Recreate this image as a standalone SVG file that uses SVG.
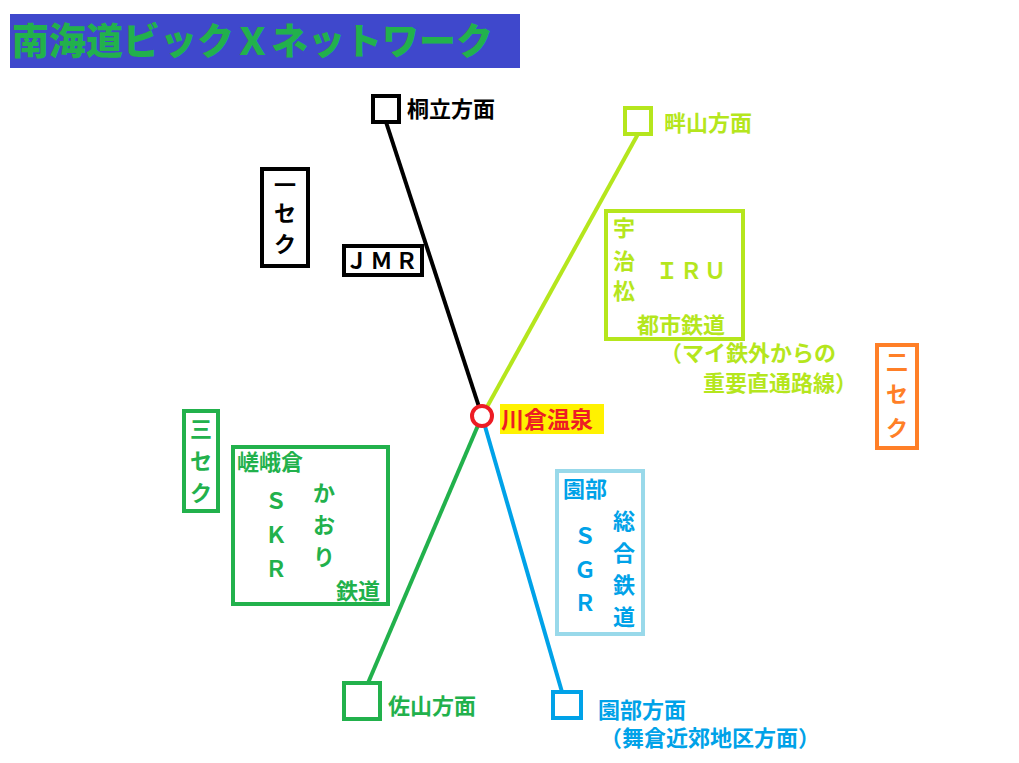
<svg xmlns="http://www.w3.org/2000/svg" width="1019" height="763" viewBox="0 0 1019 763">
<style>
text{font-family:"Noto Sans CJK JP","Noto Sans",sans-serif;font-weight:bold;font-size:22px}
.bk{fill:#000}.yg{fill:#b5e61d}.gr{fill:#22b14c}.bl{fill:#00a2e8}.or{fill:#ff7f27}
.box{fill:none;stroke-width:4}
</style>
<rect width="1019" height="763" fill="#fff"/>
<g id="title"><rect x="10" y="14" width="510" height="54" fill="#3f48cc"/>
<text x="12" y="55" class="gr" style="font-size:37px;font-weight:900">南海道ビックＸネットワーク</text></g>
<g id="connectors" stroke-width="4" fill="none">
<line x1="386" y1="122" x2="482" y2="416" stroke="#000"/>
<line x1="638" y1="134" x2="482" y2="416" stroke="#b5e61d"/>
<line x1="482" y1="416" x2="368" y2="683" stroke="#22b14c"/>
<line x1="482" y1="416" x2="562" y2="692" stroke="#00a2e8"/>
</g>
<g id="kawakura"><circle cx="482" cy="416" r="10" fill="#fff" stroke="#ed1c24" stroke-width="4"/>
<rect x="500" y="404" width="104" height="30" fill="#fff200"/>
<text x="501" y="428" fill="#ed1c24" style="font-size:23px">川倉温泉</text></g>
<g id="kiritate"><rect x="373" y="96" width="26" height="26" class="box" stroke="#000"/><text x="407" y="117" class="bk">桐立方面</text></g>
<g id="azeyama"><rect x="625" y="108" width="26" height="26" class="box" stroke="#b5e61d"/><text x="664" y="131" class="yg">畔山方面</text></g>
<g id="sayama"><rect x="344" y="683" width="36" height="36" class="box" stroke="#22b14c"/><text x="388" y="714" class="gr">佐山方面</text></g>
<g id="sonobe"><rect x="553" y="692" width="28" height="26" class="box" stroke="#00a2e8"/><text x="598" y="718" class="bl">園部方面</text><text x="600" y="746" class="bl">（舞倉近郊地区方面）</text></g>
<g id="issek"><rect x="262" y="169" width="46" height="97" class="box" stroke="#000"/>
<text x="285" y="193" text-anchor="middle" class="bk">一</text><text x="285" y="221" text-anchor="middle" class="bk">セ</text><text x="285" y="252" text-anchor="middle" class="bk">ク</text></g>
<g id="jmr"><rect x="344" y="246" width="78" height="29" class="box" stroke="#000"/><text x="383" y="269" text-anchor="middle" class="bk" letter-spacing="3">ＪＭＲ</text></g>
<g id="iru"><rect x="606" y="211" width="137" height="128" class="box" stroke="#b5e61d"/>
<text x="613" y="236" class="yg">宇</text><text x="613" y="269" class="yg">治</text><text x="613" y="299" class="yg">松</text>
<text x="656" y="279" class="yg" letter-spacing="2">ＩＲＵ</text>
<text x="637" y="333" class="yg">都市鉄道</text>
<text x="660" y="361" class="yg">（マイ鉄外からの</text>
<text x="703" y="391" class="yg">重要直通路線）</text></g>
<g id="nisek"><rect x="877" y="345" width="40" height="103" class="box" stroke="#ff7f27"/>
<text x="897" y="370" text-anchor="middle" class="or">二</text><text x="897" y="402" text-anchor="middle" class="or">セ</text><text x="897" y="436" text-anchor="middle" class="or">ク</text></g>
<g id="sansek"><rect x="184" y="411" width="34" height="100" class="box" stroke="#22b14c"/>
<text x="201" y="437" text-anchor="middle" class="gr">三</text><text x="201" y="469" text-anchor="middle" class="gr">セ</text><text x="201" y="501" text-anchor="middle" class="gr">ク</text></g>
<g id="skr"><rect x="233" y="447" width="155" height="157" class="box" stroke="#22b14c"/>
<text x="237" y="470" class="gr">嵯峨倉</text>
<text x="276" y="509" text-anchor="middle" class="gr">Ｓ</text><text x="276" y="543" text-anchor="middle" class="gr">Ｋ</text><text x="276" y="577" text-anchor="middle" class="gr">Ｒ</text>
<text x="324" y="501" text-anchor="middle" class="gr">か</text><text x="324" y="533" text-anchor="middle" class="gr">お</text><text x="324" y="565" text-anchor="middle" class="gr">り</text>
<text x="336" y="599" class="gr">鉄道</text></g>
<g id="sgr"><rect x="557" y="471" width="86" height="163" class="box" stroke="#99d9ea"/>
<text x="563" y="497" class="bl">園部</text>
<text x="585" y="544" text-anchor="middle" class="bl">Ｓ</text><text x="585" y="578" text-anchor="middle" class="bl">Ｇ</text><text x="585" y="611" text-anchor="middle" class="bl">Ｒ</text>
<text x="624" y="529" text-anchor="middle" class="bl">総</text><text x="624" y="561" text-anchor="middle" class="bl">合</text><text x="624" y="593" text-anchor="middle" class="bl">鉄</text><text x="624" y="625" text-anchor="middle" class="bl">道</text></g>
</svg>
